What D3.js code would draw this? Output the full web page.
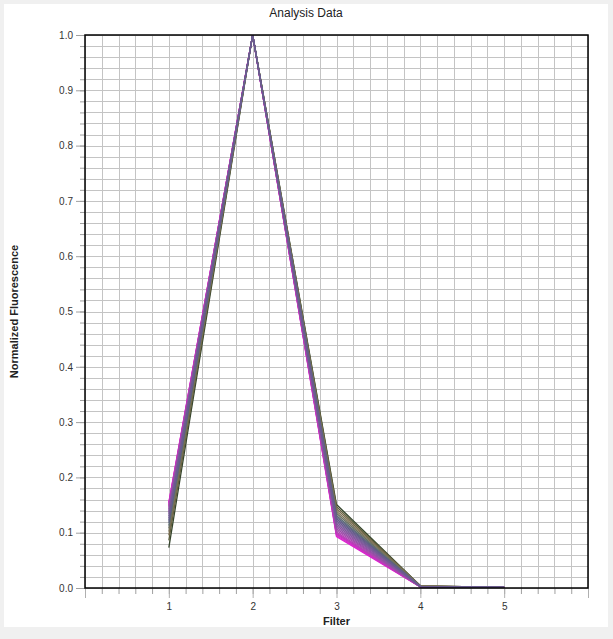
<!DOCTYPE html>
<html>
<head>
<meta charset="utf-8">
<script src="https://cdn.jsdelivr.net/npm/d3@7"></script>
<style>
  body { margin: 0; background: #f0f0f0; }
  text { font-family: "Liberation Sans", Arial, sans-serif; }
</style>
</head>
<body>
<svg id="chart"></svg>
<script>
// filter positions on the x axis
const filters = [1, 2, 3, 4, 5];
// normalized values of every trace, one array per filter (trace 0 = magenta ... last = dark green)
const atFilter1 = [0.155, 0.154, 0.152, 0.150, 0.148, 0.146, 0.143, 0.140, 0.137, 0.134, 0.130, 0.126, 0.122, 0.118, 0.113, 0.108, 0.102, 0.095, 0.086, 0.073];
const atFilter2 = [1, 1, 1, 1, 1, 1, 1, 1, 1, 1, 1, 1, 1, 1, 1, 1, 1, 1, 1, 1];
const atFilter3 = [0.093, 0.095, 0.097, 0.099, 0.101, 0.104, 0.107, 0.110, 0.113, 0.116, 0.119, 0.122, 0.125, 0.128, 0.131, 0.135, 0.139, 0.143, 0.147, 0.151];
const atFilter4 = [0.002, 0.002, 0.002, 0.002, 0.002, 0.002, 0.002, 0.002, 0.003, 0.003, 0.003, 0.003, 0.003, 0.003, 0.003, 0.003, 0.004, 0.004, 0.004, 0.004];
const atFilter5 = [0.001, 0.001, 0.001, 0.001, 0.001, 0.001, 0.001, 0.001, 0.001, 0.001, 0.001, 0.001, 0.001, 0.001, 0.001, 0.001, 0.001, 0.001, 0.001, 0.001];
const traceColors = ["#e020d0", "#d828cc", "#cc30c4", "#c038bc", "#b440b4", "#a848b0", "#9c4ca8", "#9050a4", "#8854a0", "#80589c", "#785c98", "#6c5c90", "#625c88", "#5c6480", "#5e6c74", "#6a7062", "#7a7256", "#76684a", "#5c5e3c", "#34442c"];
const yTickLabels = [0.0, 0.1, 0.2, 0.3, 0.4, 0.5, 0.6, 0.7, 0.8, 0.9, 1.0];

const width = 613, height = 639;
const margin = {top: 35, right: 25, bottom: 51, left: 85};

const columns = [atFilter1, atFilter2, atFilter3, atFilter4, atFilter5];
const traces = traceColors.map((c, i) => ({
  index: i,
  color: c,
  points: filters.map((f, j) => ({x: f, y: columns[j][i]}))
}));

const svg = d3.select("#chart")
  .attr("width", width)
  .attr("height", height);

svg.append("rect")
  .attr("x", 4).attr("y", 4)
  .attr("width", 604).attr("height", 623)
  .attr("fill", "#ffffff");

const x = d3.scaleLinear().domain([0, 6]).range([margin.left, width - margin.right]);
const y = d3.scaleLinear().domain([0, 1]).range([height - margin.bottom, margin.top]);

// grid every 0.2 in x and 0.02 in y
const xGrid = d3.range(0, 31).map(d => d * 0.2);
const yGrid = d3.range(0, 51).map(d => d * 0.02);

const grid = svg.append("g").attr("stroke", "#c4c4c4").attr("stroke-width", 1);
grid.selectAll("line.v")
  .data(xGrid)
  .enter().append("line")
  .attr("class", "v")
  .attr("x1", d => Math.round(x(d)) + 0.5).attr("x2", d => Math.round(x(d)) + 0.5)
  .attr("y1", y(1)).attr("y2", y(0));
grid.selectAll("line.h")
  .data(yGrid)
  .enter().append("line")
  .attr("class", "h")
  .attr("x1", x(0)).attr("x2", x(6))
  .attr("y1", d => Math.round(y(d)) + 0.5).attr("y2", d => Math.round(y(d)) + 0.5);

// y axis: minor ticks at every grid line, labels every 0.1
const yAxis = d3.axisLeft(y)
  .tickValues(yGrid)
  .tickSize(5)
  .tickFormat(d => "");
const yAxisG = svg.append("g")
  .attr("transform", "translate(" + x(0) + ",0)")
  .call(yAxis);
yAxisG.select(".domain").remove();
yAxisG.selectAll(".tick line").attr("stroke", "#a0a0a0");

const yMajor = d3.axisLeft(y)
  .tickValues(yTickLabels)
  .tickSize(9)
  .tickPadding(3)
  .tickFormat(d3.format(".1f"));
const yMajorG = svg.append("g")
  .attr("transform", "translate(" + x(0) + ",0)")
  .call(yMajor);
yMajorG.select(".domain").remove();
yMajorG.selectAll(".tick line").attr("stroke", "#a0a0a0");
yMajorG.selectAll(".tick text")
  .attr("font-size", 10)
  .attr("font-family", "Liberation Sans, Arial, sans-serif")
  .attr("fill", "#333");

// x axis: ticks at every grid line, labels on filters
const xAxis = d3.axisBottom(x)
  .tickValues(xGrid)
  .tickSize(6)
  .tickFormat(d => "");
const xAxisG = svg.append("g")
  .attr("transform", "translate(0," + y(0) + ")")
  .call(xAxis);
xAxisG.select(".domain").remove();
xAxisG.selectAll(".tick line").attr("stroke", "#a0a0a0");

const xMajor = d3.axisBottom(x)
  .tickValues([0].concat(filters).concat([6]))
  .tickSize(10)
  .tickPadding(5)
  .tickFormat(d => (d >= 1 && d <= 5) ? d : "");
const xMajorG = svg.append("g")
  .attr("transform", "translate(0," + y(0) + ")")
  .call(xMajor);
xMajorG.select(".domain").remove();
xMajorG.selectAll(".tick line").attr("stroke", "#b0b0b0");
xMajorG.selectAll(".tick text")
  .attr("font-size", 10)
  .attr("font-family", "Liberation Sans, Arial, sans-serif")
  .attr("fill", "#333");

// traces: outermost colours first, the purple-slate middle ones end up on top
const mid = 11;
const drawOrder = traces.slice().sort((a, b) => Math.abs(b.index - mid) - Math.abs(a.index - mid));
const line = d3.line().x(d => x(d.x)).y(d => y(d.y));
svg.append("g")
  .selectAll("path")
  .data(drawOrder)
  .enter().append("path")
  .attr("d", d => line(d.points))
  .attr("fill", "none")
  .attr("stroke", d => d.color)
  .attr("stroke-width", 1.3)
  .attr("stroke-linejoin", "miter");

// frame
svg.append("rect")
  .attr("x", x(0)).attr("y", y(1))
  .attr("width", x(6) - x(0)).attr("height", y(0) - y(1))
  .attr("fill", "none")
  .attr("stroke", "#000")
  .attr("stroke-width", 1.5);

// titles
svg.append("text")
  .attr("x", 306).attr("y", 17)
  .attr("text-anchor", "middle")
  .attr("font-size", 12)
  .attr("fill", "#222")
  .text("Analysis Data");

svg.append("text")
  .attr("x", x(3)).attr("y", 625)
  .attr("text-anchor", "middle")
  .attr("font-size", 11)
  .attr("font-weight", "bold")
  .attr("fill", "#222")
  .text("Filter");

svg.append("text")
  .attr("transform", "translate(18," + y(0.5) + ") rotate(-90)")
  .attr("text-anchor", "middle")
  .attr("font-size", 11)
  .attr("font-weight", "bold")
  .attr("fill", "#222")
  .text("Normalized Fluorescence");
</script>
</body>
</html>
